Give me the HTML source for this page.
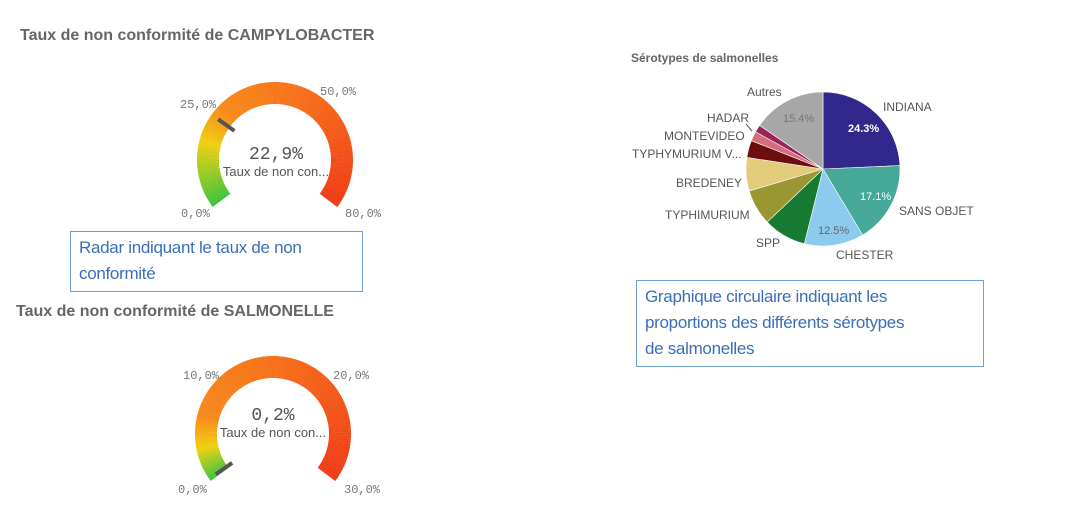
<!DOCTYPE html>
<html><head><meta charset="utf-8">
<style>
body{margin:0;width:1073px;height:517px;background:#fff;overflow:hidden;font-family:"Liberation Sans",sans-serif;}
svg{position:absolute;left:0;top:0;}
.box{position:absolute;border:1px solid #6f9fd0;color:#3a6fb8;font-size:17px;letter-spacing:-0.3px;line-height:26px;padding:3px 8px;box-sizing:border-box;}
</style></head><body>
<svg id="s" width="1073" height="517" xmlns="http://www.w3.org/2000/svg">
<g font-family="Liberation Sans, sans-serif">
<text x="20" y="40" font-size="16" font-weight="bold" fill="#666">Taux de non conformité de CAMPYLOBACTER</text>
<text x="16" y="316" font-size="16" font-weight="bold" fill="#666">Taux de non conformité de SALMONELLE</text>
<text x="631" y="62" font-size="12" font-weight="bold" fill="#666">Sérotypes de salmonelles</text>
</g>
<g id="g1"></g><g id="g2"></g><g id="pie"></g>
<g font-family="Liberation Mono, monospace" font-size="12" fill="#777">
<text x="180" y="108">25,0%</text><text x="320" y="95">50,0%</text>
<text x="181" y="217">0,0%</text><text x="345" y="217">80,0%</text>
<text x="183" y="379">10,0%</text><text x="333" y="379">20,0%</text>
<text x="178" y="493">0,0%</text><text x="344" y="493">30,0%</text>
</g>
<g font-family="Liberation Mono, monospace" fill="#555" text-anchor="middle">
<text x="276" y="159" font-size="18">22,9%</text>
<text x="273" y="420" font-size="18">0,2%</text>
</g>
<g font-family="Liberation Sans, sans-serif" fill="#555" text-anchor="middle" font-size="13">
<text x="276" y="176">Taux de non con...</text>
<text x="273" y="437">Taux de non con...</text>
</g>
<g font-family="Liberation Sans, sans-serif" font-size="12" fill="#555">
<text x="883" y="111">INDIANA</text>
<text x="899" y="215">SANS OBJET</text>
<text x="836" y="259">CHESTER</text>
<text x="756" y="247">SPP</text>
<text x="665" y="219">TYPHIMURIUM</text>
<text x="676" y="187">BREDENEY</text>
<text x="632" y="158">TYPHYMURIUM V...</text>
<text x="664" y="140">MONTEVIDEO</text>
<text x="707" y="122">HADAR</text>
<text x="747" y="96">Autres</text>
<line x1="746" y1="124" x2="752" y2="131" stroke="#555" stroke-width="1"/>
<text x="848" y="132" fill="#fff" font-weight="bold" font-size="11">24.3%</text>
<text x="860" y="200" fill="#fff" font-size="11">17.1%</text>
<text x="818" y="234" fill="#666" font-size="11">12.5%</text>
<text x="783" y="122" fill="#777" font-size="11">15.4%</text>
</g>
</svg>
<div class="box" style="left:70px;top:231px;width:293px;height:61px;">Radar indiquant le taux de non<br>conformité</div>
<div class="box" style="left:636px;top:280px;width:348px;height:87px;">Graphique circulaire indiquant les<br>proportions des différents sérotypes<br>de salmonelles</div>
<script>
var NS="http://www.w3.org/2000/svg";
function hex(c){return [parseInt(c.substr(1,2),16),parseInt(c.substr(3,2),16),parseInt(c.substr(5,2),16)];}
function col(stops,t){for(var i=1;i<stops.length;i++){if(t<=stops[i][0]){var a=stops[i-1],b=stops[i],f=(t-a[0])/(b[0]-a[0]);var x=hex(a[1]),y=hex(b[1]);return "rgb("+x.map(function(v,k){return Math.round(v+(y[k]-v)*f)}).join(",")+")";}}return stops[stops.length-1][1];}
function pt(cx,cy,r,a){var rad=a*Math.PI/180;return [cx+r*Math.sin(rad),cy-r*Math.cos(rad)];}
function gauge(id,cx,cy,ro,ri,stops,val){var g=document.getElementById(id);var A=-127,B=127,N=120;
for(var i=0;i<N;i++){var a0=A+(B-A)*i/N,a1=A+(B-A)*(i+1.05)/N;var p1=pt(cx,cy,ro,a0),p2=pt(cx,cy,ro,a1),p3=pt(cx,cy,ri,a1),p4=pt(cx,cy,ri,a0);
var p=document.createElementNS(NS,"path");p.setAttribute("d","M"+p1+" A"+ro+","+ro+" 0 0 1 "+p2+" L"+p3+" A"+ri+","+ri+" 0 0 0 "+p4+"Z");p.setAttribute("fill",col(stops,(i+0.5)/N));g.appendChild(p);}
var an=A+(B-A)*val;var q1=pt(cx,cy,ro-8,an),q2=pt(cx,cy,ri-6,an);var l=document.createElementNS(NS,"line");
l.setAttribute("x1",q1[0]);l.setAttribute("y1",q1[1]);l.setAttribute("x2",q2[0]);l.setAttribute("y2",q2[1]);l.setAttribute("stroke","#555");l.setAttribute("stroke-width","4");g.appendChild(l);}
gauge("g1",275,160,78,56,[[0,"#3cc43c"],[0.2,"#f0d010"],[0.32,"#f78a1a"],[0.55,"#f7741a"],[1,"#f03c18"]],0.286);
gauge("g2",273,434,78,56,[[0,"#3cc43c"],[0.1,"#f0d010"],[0.2,"#f78a1a"],[0.5,"#f7701a"],[1,"#f03c18"]],0.007);
var sl=[[24.3,"#32278a"],[17.1,"#46a898"],[12.5,"#8ccbee"],[9,"#167a33"],[7.5,"#9a9632"],[7,"#e2cc7c"],[3.6,"#6c0e0e"],[2,"#d56d7e"],[1.6,"#9c2558"],[15.4,"#a7a7a7"]];
var pg=document.getElementById("pie"),cx=823,cy=169,r=77,a=0;
sl.forEach(function(s){var b=a+s[0]*3.6;var p1=pt(cx,cy,r,a),p2=pt(cx,cy,r,b);var p=document.createElementNS(NS,"path");
p.setAttribute("d","M"+cx+","+cy+" L"+p1+" A"+r+","+r+" 0 "+(b-a>180?1:0)+" 1 "+p2+"Z");p.setAttribute("fill",s[1]);p.setAttribute("stroke","#fff");p.setAttribute("stroke-width","0.6");pg.appendChild(p);a=b;});
</script>
</body></html>
